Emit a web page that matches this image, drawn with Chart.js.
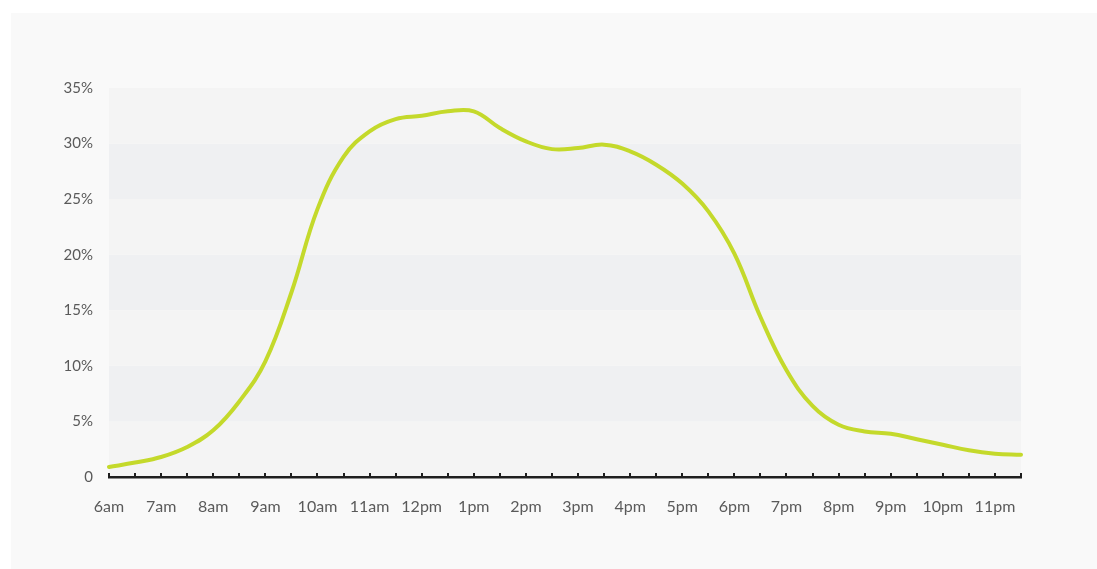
<!DOCTYPE html>
<html>
<head>
<meta charset="utf-8">
<script src="https://cdn.jsdelivr.net/npm/chart.js@4/dist/chart.umd.min.js"></script>
<style>
  html, body { margin: 0; padding: 0; background: #ffffff; }
  #card {
    position: absolute; left: 11px; top: 13px;
    width: 1086px; height: 556px;
    background: #f9f9f9;
  }
  #chart { display: block; }
</style>
</head>
<body>
<div id="card"><canvas id="chart" width="1086" height="556"></canvas></div>
<script>
// Half-hour slots from 6:00 to 23:30
const slots = [
  '6:00','6:30','7:00','7:30','8:00','8:30','9:00','9:30','10:00','10:30',
  '11:00','11:30','12:00','12:30','13:00','13:30','14:00','14:30','15:00','15:30',
  '16:00','16:30','17:00','17:30','18:00','18:30','19:00','19:30','20:00','20:30',
  '21:00','21:30','22:00','22:30','23:00','23:30'
];

// Hour labels shown under every other slot
const hourLabels = [
  '6am','7am','8am','9am','10am','11am','12pm','1pm','2pm',
  '3pm','4pm','5pm','6pm','7pm','8pm','9pm','10pm','11pm'
];

// Share of activity (%) in each slot
const share = [
  0.9, 1.3, 1.8, 2.7, 4.2, 6.8, 10.4, 16.6, 24.1, 28.8,
  31.1, 32.2, 32.5, 32.9, 32.9, 31.4, 30.2, 29.5, 29.6, 29.9,
  29.3, 28.1, 26.4, 23.9, 20.1, 14.4, 9.6, 6.4, 4.7, 4.1,
  3.9, 3.4, 2.9, 2.4, 2.1, 2.0
];

// Value axis ticks
const yTicks = [0, 5, 10, 15, 20, 25, 30, 35];

const lightBand = '#f4f4f4';
const darkBand = '#eff0f2';

// Alternating horizontal bands between value gridlines
const bandPlugin = {
  id: 'bands',
  beforeDatasetsDraw(chart) {
    const { ctx, chartArea, scales } = chart;
    const y = scales.y;
    ctx.save();
    for (let i = 0; i < yTicks.length - 1; i++) {
      const lo = yTicks[i], hi = yTicks[i + 1];
      const top = y.getPixelForValue(hi);
      const bottom = y.getPixelForValue(lo);
      ctx.fillStyle = (hi / 5) % 2 === 1 ? lightBand : darkBand;
      ctx.fillRect(chartArea.left, top, chartArea.right - chartArea.left, bottom - top);
    }
    ctx.restore();
  }
};

// Short tick marks rising from the time axis at every half hour
const tickMarkPlugin = {
  id: 'tickMarks',
  afterDatasetsDraw(chart) {
    const { ctx, scales } = chart;
    const x = scales.x;
    const base = scales.y.getPixelForValue(0);
    ctx.save();
    ctx.strokeStyle = '#1e1e1e';
    ctx.lineWidth = 2;
    for (let i = 0; i < slots.length; i++) {
      const px = Math.round(x.getPixelForValue(i));
      ctx.beginPath();
      ctx.moveTo(px, base + 1);
      ctx.lineTo(px, base - 4);
      ctx.stroke();
    }
    ctx.restore();
  }
};

new Chart(document.getElementById('chart'), {
  type: 'line',
  data: {
    labels: slots,
    datasets: [{
      data: share,
      borderColor: '#c4d92b',
      borderWidth: 4,
      pointRadius: 0,
      tension: 0.4,
      fill: false,
      borderCapStyle: 'round'
    }]
  },
  options: {
    responsive: false,
    animation: false,
    layout: { padding: { top: 75, right: 76, left: 0, bottom: 0 } },
    plugins: { legend: { display: false }, tooltip: { enabled: false } },
    scales: {
      x: {
        type: 'category',
        offset: false,
        grid: { display: false, drawTicks: false },
        border: { display: true, color: '#1e1e1e', width: 2.5, z: 1 },
        ticks: {
          autoSkip: false,
          maxRotation: 0,
          padding: 20,
          color: '#5a5a5a',
          font: { family: 'Lato', size: 16 },
          callback: (v, i) => (i % 2 === 0 ? hourLabels[i / 2] : '')
        },
        afterFit(scale) { scale.height = 92; }
      },
      y: {
        min: 0,
        max: 35,
        grid: { display: false, drawTicks: false },
        border: { display: false },
        ticks: {
          stepSize: 5,
          padding: 16,
          color: '#5a5a5a',
          font: { family: 'Lato', size: 15 },
          callback: v => (v === 0 ? '0' : v + '%')
        },
        afterFit(scale) { scale.width = 98; }
      }
    }
  },
  plugins: [bandPlugin, tickMarkPlugin]
});
</script>
</body>
</html>
